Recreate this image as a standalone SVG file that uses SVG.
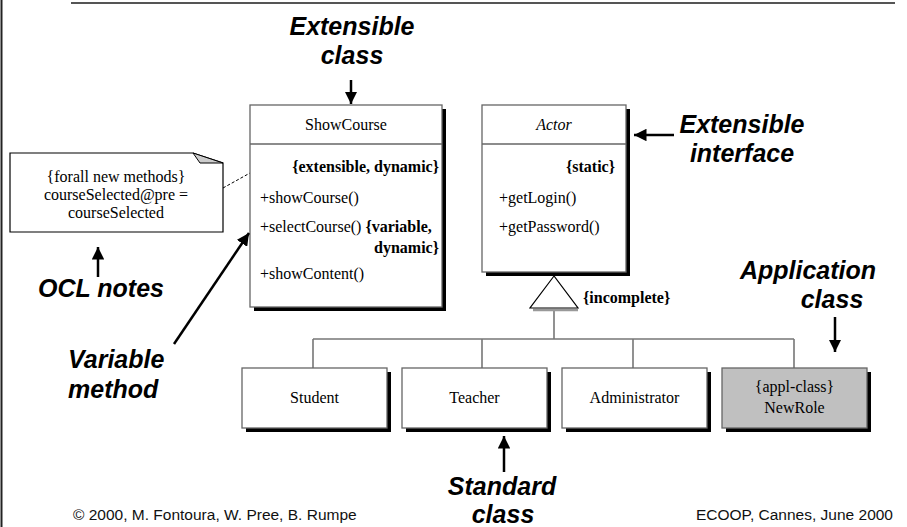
<svg xmlns="http://www.w3.org/2000/svg" width="907" height="527" viewBox="0 0 907 527">
<style>
.lbl{font-family:"Liberation Sans",Arial,sans-serif;font-weight:bold;font-style:italic;font-size:25px;fill:#000;text-anchor:middle}
.t{font-family:"Liberation Serif","Times New Roman",serif;font-size:16px;fill:#000}
.b{font-weight:bold}
.box{fill:#fff;stroke:#666;stroke-width:1.3}
.sh{fill:#000}
.con{fill:none;stroke:#777;stroke-width:1.6}
.arr{stroke:#000;stroke-width:2.5;fill:none}
.foot{font-family:"Liberation Sans",Arial,sans-serif;font-size:15.5px;fill:#111}
</style>
<defs>
<marker id="ah" viewBox="0 0 10 10" refX="10" refY="5" markerWidth="5" markerHeight="5" markerUnits="strokeWidth" orient="auto">
<path d="M0,0 L10,5 L0,10 z" fill="#000"/>
</marker>
</defs>

<!-- frame -->
<line x1="1.5" y1="0" x2="1.5" y2="527" stroke="#222" stroke-width="2"/>
<line x1="71" y1="3" x2="895" y2="3" stroke="#555" stroke-width="1.8"/>

<!-- connectors -->
<g id="connectors">
<path class="con" d="M554,310 V339 M313,339 H794 M313,339 V368 M482,339 V368 M633,339 V368 M794,339 V368"/>
<line x1="223" y1="188" x2="250" y2="173" stroke="#000" stroke-width="1" stroke-dasharray="3,2"/>
<line x1="533" y1="310" x2="578" y2="310" stroke="#999" stroke-width="2.5"/>
<polygon points="554,276 530,308 578,308" fill="#fff" stroke="#000" stroke-width="1.2"/>
</g>

<!-- ShowCourse -->
<g id="showcourse">
<rect class="sh" x="254" y="109" width="192" height="202"/>
<rect class="box" x="250" y="105" width="192" height="202"/>
<line x1="250" y1="144" x2="442" y2="144" stroke="#666" stroke-width="1.3"/>
<text class="t" x="346" y="130" text-anchor="middle">ShowCourse</text>
<text class="t b" x="439" y="172" text-anchor="end">{extensible, dynamic}</text>
<text class="t" x="260" y="203">+showCourse()</text>
<text class="t" x="260" y="232">+selectCourse() <tspan class="b">{variable,</tspan></text>
<text class="t b" x="439" y="253" text-anchor="end">dynamic}</text>
<text class="t" x="260" y="279">+showContent()</text>
</g>

<!-- Actor -->
<g id="actor">
<rect class="sh" x="486" y="109" width="144" height="167"/>
<rect class="box" x="482" y="105" width="144" height="167"/>
<line x1="482" y1="144" x2="626" y2="144" stroke="#666" stroke-width="1.3"/>
<text class="t" x="554" y="130" text-anchor="middle" font-style="italic">Actor</text>
<text class="t b" x="615" y="172" text-anchor="end">{static}</text>
<text class="t" x="499" y="203">+getLogin()</text>
<text class="t" x="499" y="232">+getPassword()</text>
</g>

<text class="t b" x="583" y="303">{incomplete}</text>

<!-- Note -->
<g id="note">
<path d="M10,153 H193 L223,163 V232 H10 Z" fill="#fff" stroke="#000" stroke-width="1.2"/>
<polygon points="193,153 200,163 223,163" fill="#ccc" stroke="#000" stroke-width="1"/>
<text class="t" x="116" y="182" text-anchor="middle">{forall new methods}</text>
<text class="t" x="116" y="200" text-anchor="middle">courseSelected@pre =</text>
<text class="t" x="116" y="218" text-anchor="middle">courseSelected</text>
</g>

<!-- bottom classes -->
<g id="student">
<rect class="sh" x="246" y="372" width="145" height="60"/>
<rect class="box" x="242" y="368" width="145" height="60"/>
<text class="t" x="314.5" y="403" text-anchor="middle">Student</text>
</g>
<g id="teacher">
<rect class="sh" x="406" y="372" width="145" height="60"/>
<rect class="box" x="402" y="368" width="145" height="60"/>
<text class="t" x="474.5" y="403" text-anchor="middle">Teacher</text>
</g>
<g id="administrator">
<rect class="sh" x="566" y="372" width="145" height="60"/>
<rect class="box" x="562" y="368" width="145" height="60"/>
<text class="t" x="634.5" y="403" text-anchor="middle">Administrator</text>
</g>
<g id="newrole">
<rect class="sh" x="726" y="372" width="145" height="60"/>
<rect class="box" x="722" y="368" width="145" height="60" style="fill:#c0c0c0"/>
<text class="t" x="794.5" y="392" text-anchor="middle">{appl-class}</text>
<text class="t" x="794.5" y="413" text-anchor="middle">NewRole</text>
</g>

<!-- annotation labels -->
<g id="ann-extclass">
<text class="lbl" x="352" y="35">Extensible</text>
<text class="lbl" x="352" y="64">class</text>
<line class="arr" x1="351" y1="80" x2="351" y2="104" marker-end="url(#ah)"/>
</g>
<g id="ann-extif">
<text class="lbl" x="742" y="133">Extensible</text>
<text class="lbl" x="742" y="162">interface</text>
<line class="arr" x1="674" y1="135" x2="634" y2="135" marker-end="url(#ah)"/>
</g>
<g id="ann-appl">
<text class="lbl" x="808" y="279">Application</text>
<text class="lbl" x="832" y="308">class</text>
<line class="arr" x1="835" y1="317" x2="835" y2="352" marker-end="url(#ah)"/>
</g>
<g id="ann-ocl">
<text class="lbl" x="101" y="297">OCL notes</text>
<line class="arr" x1="98" y1="277" x2="98" y2="247" marker-end="url(#ah)"/>
</g>
<g id="ann-var">
<text class="lbl" x="68" y="368" style="text-anchor:start">Variable</text>
<text class="lbl" x="68" y="398" style="text-anchor:start">method</text>
<line class="arr" x1="174" y1="344" x2="249" y2="233" marker-end="url(#ah)"/>
</g>
<g id="ann-std">
<text class="lbl" x="502" y="495">Standard</text>
<text class="lbl" x="503" y="523">class</text>
<line class="arr" x1="504" y1="472" x2="504" y2="436" marker-end="url(#ah)"/>
</g>

<text class="foot" x="73" y="520">© 2000, M. Fontoura, W. Pree, B. Rumpe</text>
<text class="foot" x="893" y="520" text-anchor="end">ECOOP, Cannes, June 2000</text>
</svg>
